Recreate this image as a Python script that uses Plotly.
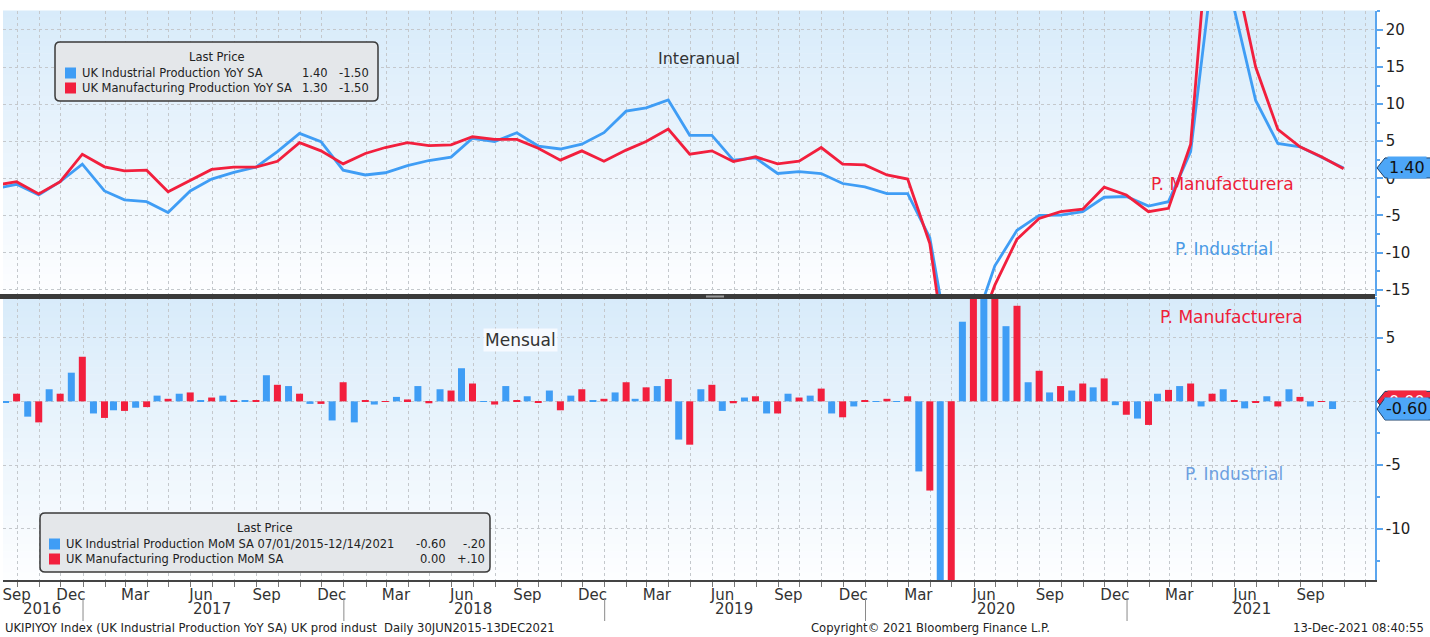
import pandas as pd
import plotly.graph_objects as go
from plotly.subplots import make_subplots

# ---------------- data ----------------
yoy_months = pd.period_range('2016-08', '2021-10', freq='M')
ip_yoy = [-1.4, -0.8, -2.25, -0.45, 1.9, -1.7, -2.9, -3.15, -4.6, -1.7, -0.1, 0.8, 1.5, 3.6, 6.05, 4.95,
          1.1, 0.45, 0.75, 1.7, 2.4, 2.85, 5.4, 4.95, 6.15, 4.35, 3.95, 4.6, 6.15,
          9.05, 9.5, 10.55, 5.8, 5.8, 2.45, 2.75, 0.65, 0.9, 0.65, -0.7, -1.15,
          -2.05, -2.05, -8.0, -24.4, -20.2, -11.8, -7.0, -5.0, -4.95, -4.5, -2.55, -2.45,
          -3.75, -3.15, 3.6, 27.5, 22.8, 10.5, 4.7, 4.25, 2.9, 1.4]
mfg_yoy = [-0.95, -0.45, -2.1, -0.45, 3.25, 1.55, 1.0, 1.1, -1.8, -0.25, 1.2, 1.5, 1.5, 2.3, 4.8, 3.7,
           1.95, 3.35, 4.15, 4.8, 4.4, 4.5, 5.6, 5.25, 5.25, 4.05, 2.45, 3.7, 2.3,
           3.8, 4.95, 6.65, 3.25, 3.7, 2.25, 2.9, 1.95, 2.3, 4.15, 1.9, 1.8,
           0.45, -0.1, -8.8, -28.9, -22.0, -14.4, -8.2, -5.4, -4.5, -4.15, -1.2, -2.25,
           -4.5, -4.05, 4.6, 39.7, 28.4, 15.0, 6.6, 4.25, 2.9, 1.3]

mom_months = pd.period_range('2016-09', '2021-10', freq='M')
ip_mom = [-0.1, -1.2, 0.95, 2.25,
          -0.95, -0.7, -0.5, 0.45, 0.6, 0.08, 0.45, 0.08, 2.05, 1.2, -0.2, -1.5,
          -1.65, -0.25, 0.35, 1.2, 0.95, 2.6, -0.05, 1.2, 0.4, 0.85, 0.45, 0.08,
          0.7, 0.2, 1.2, -3.0, 0.95, -0.75, 0.3, -0.95, 0.6, 0.45, -0.95, -0.4,
          -0.05, -0.05, -5.5, -20.3, 6.25, 9.3, 5.9, 1.5, 0.7, 0.85, 1.1, -0.3,
          -1.35, 0.6, 1.2, -0.4, 0.95, -0.55, 0.4, 0.95, -0.4, -0.6]
mfg_mom = [0.6, -1.65, 0.6, 3.5,
           -1.3, -0.75, -0.45, 0.2, 0.7, 0.3, 0.05, 0.05, 1.3, 0.6, -0.2, 1.5,
           0.05, -0.05, 0.15, -0.15, 0.85, 1.4, -0.25, 0.05, -0.1, -0.7, 0.95, 0.2,
           1.5, 1.1, 1.75, -3.4, 1.3, -0.15, 0.4, -0.95, 0.3, 1.0, -1.25, 0.08,
           0.2, 0.4, -7.0, -24.3, 8.4, 11.0, 7.5, 2.4, 1.2, 1.4, 1.8, -1.05,
           -1.85, 0.9, 1.4, 0.6, 0.05, -0.1, -0.4, 0.35, -0.05, 0.0]

tick_dates = ['2016-09-30', '2016-12-15',
              '2017-03-15', '2017-06-15', '2017-09-15', '2017-12-15',
              '2018-03-15', '2018-06-15', '2018-09-15', '2018-12-15',
              '2019-03-15', '2019-06-15', '2019-09-15', '2019-12-15',
              '2020-03-15', '2020-06-15', '2020-09-15', '2020-12-15',
              '2021-03-15', '2021-06-15', '2021-09-15']
tick_text = ['Sep', 'Dec'] + ['Mar', 'Jun', 'Sep', 'Dec'] * 4 + ['Mar', 'Jun', 'Sep']
year_labels = ['2016', '2017', '2018', '2019', '2020', '2021']
year_label_dates = ['2016-11-05', '2017-07-01', '2018-07-01', '2019-07-01', '2020-07-01', '2021-06-25']
year_breaks = ['2017-01-01', '2018-01-01', '2019-01-01', '2020-01-01', '2021-01-01']

legend_top_rows = [('UK Industrial Production YoY SA', '1.40', '-1.50'),
                   ('UK Manufacturing Production YoY SA', '1.30', '-1.50')]
legend_bot_rows = [('UK Industrial Production MoM SA 07/01/2015-12/14/2021', '-0.60', '-.20'),
                   ('UK Manufacturing Production MoM SA', '0.00', '+.10')]

# ---------------- style ----------------
BLUE = '#3f9df5'
RED = '#f21f3d'
AXBLUE = '#5aa5ee'
GRID = '#c4c8cc'
FONT = 'DejaVu Sans'
DAY = 86400000

yoy_x = yoy_months.to_timestamp(how='end').normalize().strftime('%Y-%m-%d').tolist()
mom_x = mom_months.to_timestamp(how='end').normalize().strftime('%Y-%m-%d').tolist()

X_RANGE = ['2016-09-11', '2021-12-14']
Y1_RANGE = [-15.86, 22.55]
Y2_RANGE = [-14.02, 8.19]

# pixel helpers (plot area: x 3..1375, y 11..580)
def px(x):
    return (x - 3) / 1372.0

def py(y):
    return (580 - y) / 569.0

fig = make_subplots(rows=2, cols=1)

fig.add_trace(go.Scatter(x=yoy_x, y=ip_yoy, mode='lines', line=dict(color=BLUE, width=2.8),
                         name='UK Industrial Production YoY SA', showlegend=False), row=1, col=1)
fig.add_trace(go.Scatter(x=yoy_x, y=mfg_yoy, mode='lines', line=dict(color=RED, width=2.8),
                         name='UK Manufacturing Production YoY SA', showlegend=False), row=1, col=1)
fig.add_trace(go.Bar(x=mom_x, y=ip_mom, marker=dict(color=BLUE, line=dict(width=0)),
                     offset=-20.3 * DAY, width=9.8 * DAY,
                     name='UK Industrial Production MoM SA', showlegend=False), row=2, col=1)
fig.add_trace(go.Bar(x=mom_x, y=mfg_mom, marker=dict(color=RED, line=dict(width=0)),
                     offset=-4.9 * DAY, width=9.8 * DAY,
                     name='UK Manufacturing Production MoM SA', showlegend=False), row=2, col=1)

minor_grid = dict(tickmode='linear', dtick='M1', tick0='2016-01-01', showgrid=True,
                  gridcolor=GRID, griddash='dot', gridwidth=1)

fig.update_layout(
    template='none',
    width=1430, height=637,
    margin=dict(l=3, r=55, t=11, b=57, pad=0),
    paper_bgcolor='white', plot_bgcolor='white',
    barmode='overlay',
    showlegend=False,
    font=dict(family=FONT, color='#222'),
    xaxis=dict(domain=[0, 1], range=X_RANGE, type='date', showticklabels=False, ticks='',
               showgrid=False, zeroline=False, showline=False, automargin=False,
               minor=dict(ticks='', **minor_grid)),
    xaxis2=dict(domain=[0, 1], range=X_RANGE, type='date', tickmode='array', tickvals=tick_dates,
                ticktext=tick_text, ticks='', showgrid=False, zeroline=False,
                showline=True, linecolor='#444', linewidth=2, automargin=False,
                tickfont=dict(family=FONT, size=15, color='#333'),
                minor=dict(ticks='outside', ticklen=5, tickcolor='#777', tickwidth=1, **minor_grid)),
    yaxis=dict(domain=[py(296), 1], range=Y1_RANGE, side='right', tickmode='array',
               tickvals=[-15, -10, -5, 0, 5, 10, 15, 20],
               ticktext=['-15', '-10', '-5', '0', '5', '10', '15', '20'],
               ticks='outside', ticklen=6, tickcolor=AXBLUE, tickwidth=1.5,
               showline=True, linecolor=AXBLUE, linewidth=1.5, zeroline=False,
               showgrid=True, gridcolor=GRID, griddash='dot', automargin=False,
               tickfont=dict(family=FONT, size=15, color='#222'),
               minor=dict(tickmode='linear', dtick=2.5, tick0=0, ticks='outside', ticklen=3,
                          tickcolor=AXBLUE, showgrid=False)),
    yaxis2=dict(domain=[0, py(297)], range=Y2_RANGE, side='right', tickmode='array',
                tickvals=[-10, -5, 0, 5], ticktext=['-10', '-5', '', '5'],
                ticks='outside', ticklen=6, tickcolor=AXBLUE, tickwidth=1.5,
                showline=True, linecolor=AXBLUE, linewidth=1.5, zeroline=False,
                showgrid=True, gridcolor=GRID, griddash='dot', automargin=False,
                tickfont=dict(family=FONT, size=15, color='#222'),
                minor=dict(tickmode='linear', dtick=2.5, tick0=0, ticks='outside', ticklen=3,
                           tickcolor=AXBLUE, showgrid=False)),
)

shapes = []
annotations = []

def note(x, y, text, size, color, xanchor='center', xref='paper', yref='paper', **kw):
    d = dict(xref=xref, yref=yref, x=x, y=y, text=text, showarrow=False,
             xanchor=xanchor, yanchor='middle', font=dict(family=FONT, size=size, color=color))
    d.update(kw)
    annotations.append(d)

# gradient backgrounds
def lerp(c0, c1, t):
    return '#%02x%02x%02x' % tuple(int(round(a + (b - a) * t)) for a, b in zip(c0, c1))

TOP_C = (216, 235, 250)
BOT_C = (253, 254, 255)
N = 40
for yref, xref in (('y domain', 'x domain'), ('y2 domain', 'x2 domain')):
    for i in range(N):
        t = (i + 0.5) / N
        shapes.append(dict(type='rect', xref=xref, yref=yref, x0=0, x1=1,
                           y0=1 - (i + 1) / N, y1=1 - i / N + 0.002,
                           fillcolor=lerp(TOP_C, BOT_C, t), line=dict(width=0), layer='below'))

# panel separator
shapes.append(dict(type='line', xref='paper', yref='paper', x0=px(0), x1=1, y0=py(296.5), y1=py(296.5),
                   line=dict(color='#3a3a3a', width=5), layer='above'))
shapes.append(dict(type='rect', xref='paper', yref='paper', x0=px(706), x1=px(724), y0=py(297.5), y1=py(295.5),
                   fillcolor='#9a9a9a', line=dict(width=0), layer='above'))

# year separators below axis
for d in year_breaks:
    shapes.append(dict(type='line', xref='x2', yref='paper', x0=d, x1=d, y0=py(598), y1=py(621),
                       line=dict(color='#8a8a8a', width=1)))

# rounded rect helper in pixel coords
def rrect(x0, y0, x1, y1, r):
    return (f"M {px(x0 + r)},{py(y0)} L {px(x1 - r)},{py(y0)} Q {px(x1)},{py(y0)} {px(x1)},{py(y0 + r)} "
            f"L {px(x1)},{py(y1 - r)} Q {px(x1)},{py(y1)} {px(x1 - r)},{py(y1)} "
            f"L {px(x0 + r)},{py(y1)} Q {px(x0)},{py(y1)} {px(x0)},{py(y1 - r)} "
            f"L {px(x0)},{py(y0 + r)} Q {px(x0)},{py(y0)} {px(x0 + r)},{py(y0)} Z")

LEG_FS = 11.5

def legend_box(x0, y0, x1, y1, rows, sq_x, text_x, v1_right, v2_right):
    shapes.append(dict(type='path', xref='paper', yref='paper', path=rrect(x0, y0, x1, y1, 5),
                       fillcolor='#e4e7ea', line=dict(color='#3a3a3a', width=1.5), layer='above'))
    note(px((x0 + x1) / 2), py(y0 + 15), 'Last Price', LEG_FS, '#222')
    colors = [BLUE, RED]
    for k, (label, v1, v2) in enumerate(rows):
        yc = y0 + 31 + 15 * k
        shapes.append(dict(type='rect', xref='paper', yref='paper', x0=px(sq_x), x1=px(sq_x + 11),
                           y0=py(yc + 5.5), y1=py(yc - 5.5), fillcolor=colors[k], line=dict(width=0),
                           layer='above'))
        note(px(text_x), py(yc), label, LEG_FS, '#222', xanchor='left')
        note(px(v1_right), py(yc), v1, LEG_FS, '#222', xanchor='right')
        note(px(v2_right), py(yc), v2, LEG_FS, '#222', xanchor='right')

legend_box(55, 42, 378, 101, legend_top_rows, 65, 80, 330, 371)
legend_box(40, 513, 490, 572, legend_bot_rows, 49, 64, 448, 487)

# badges on the right axis
def badge(yref, value, ppu, fill, text, text_color, h_px=10):
    h = h_px / ppu
    path = (f"M {px(1377)},{value} L {px(1385)},{value + h} L {px(1432)},{value + h} "
            f"L {px(1432)},{value - h} L {px(1385)},{value - h} Z")
    shapes.append(dict(type='path', xref='paper', yref=yref, path=path, fillcolor=fill,
                       line=dict(color='#1d3f66', width=1), layer='above'))
    note(px(1407), value, text, 16, text_color, yref=yref, bgcolor=fill, borderpad=1)

badge('y', ip_yoy[-1], 7.42, '#4da6f7', '%.2f' % ip_yoy[-1], '#111', 10)
badge('y2', mfg_mom[-1], 12.74, '#f2263f', '%.2f' % mfg_mom[-1], '#ffffff', 10)
badge('y2', ip_mom[-1], 12.74, '#4da6f7', '%.2f' % ip_mom[-1], '#111', 11)

# year labels
for lab, d in zip(year_labels, year_label_dates):
    note(d, py(609), lab, 15, '#333', xref='x2')

# chart texts
note(px(699), py(59), 'Interanual', 16, '#333')
note(px(520), py(340), 'Mensual', 17, '#333', bgcolor='rgba(250,252,255,0.85)')
note(px(1222), py(184), 'P. Manufacturera', 17, '#ee2038')
note(px(1224), py(249), 'P. Industrial', 17, '#4a9ae6')
note(px(1231), py(317), 'P. Manufacturera', 17, '#ee2038')
note(px(1234), py(474), 'P. Industrial', 17, '#6d9fe0')
note(px(3), py(628), 'UKIPIYOY Index (UK Industrial Production YoY SA) UK prod indust  Daily 30JUN2015-13DEC2021',
     11.6, '#222', xanchor='left')
note(px(930), py(628), 'Copyright\u00a9 2021 Bloomberg Finance L.P.', 11.6, '#222')
note(px(1426), py(628), '13-Dec-2021 08:40:55', 11.6, '#222', xanchor='right')

fig.update_layout(shapes=shapes, annotations=annotations)
fig.write_html('out.html', config={'displayModeBar': False},
               post_script="document.body.style.margin='0';document.body.style.overflow='hidden';")
